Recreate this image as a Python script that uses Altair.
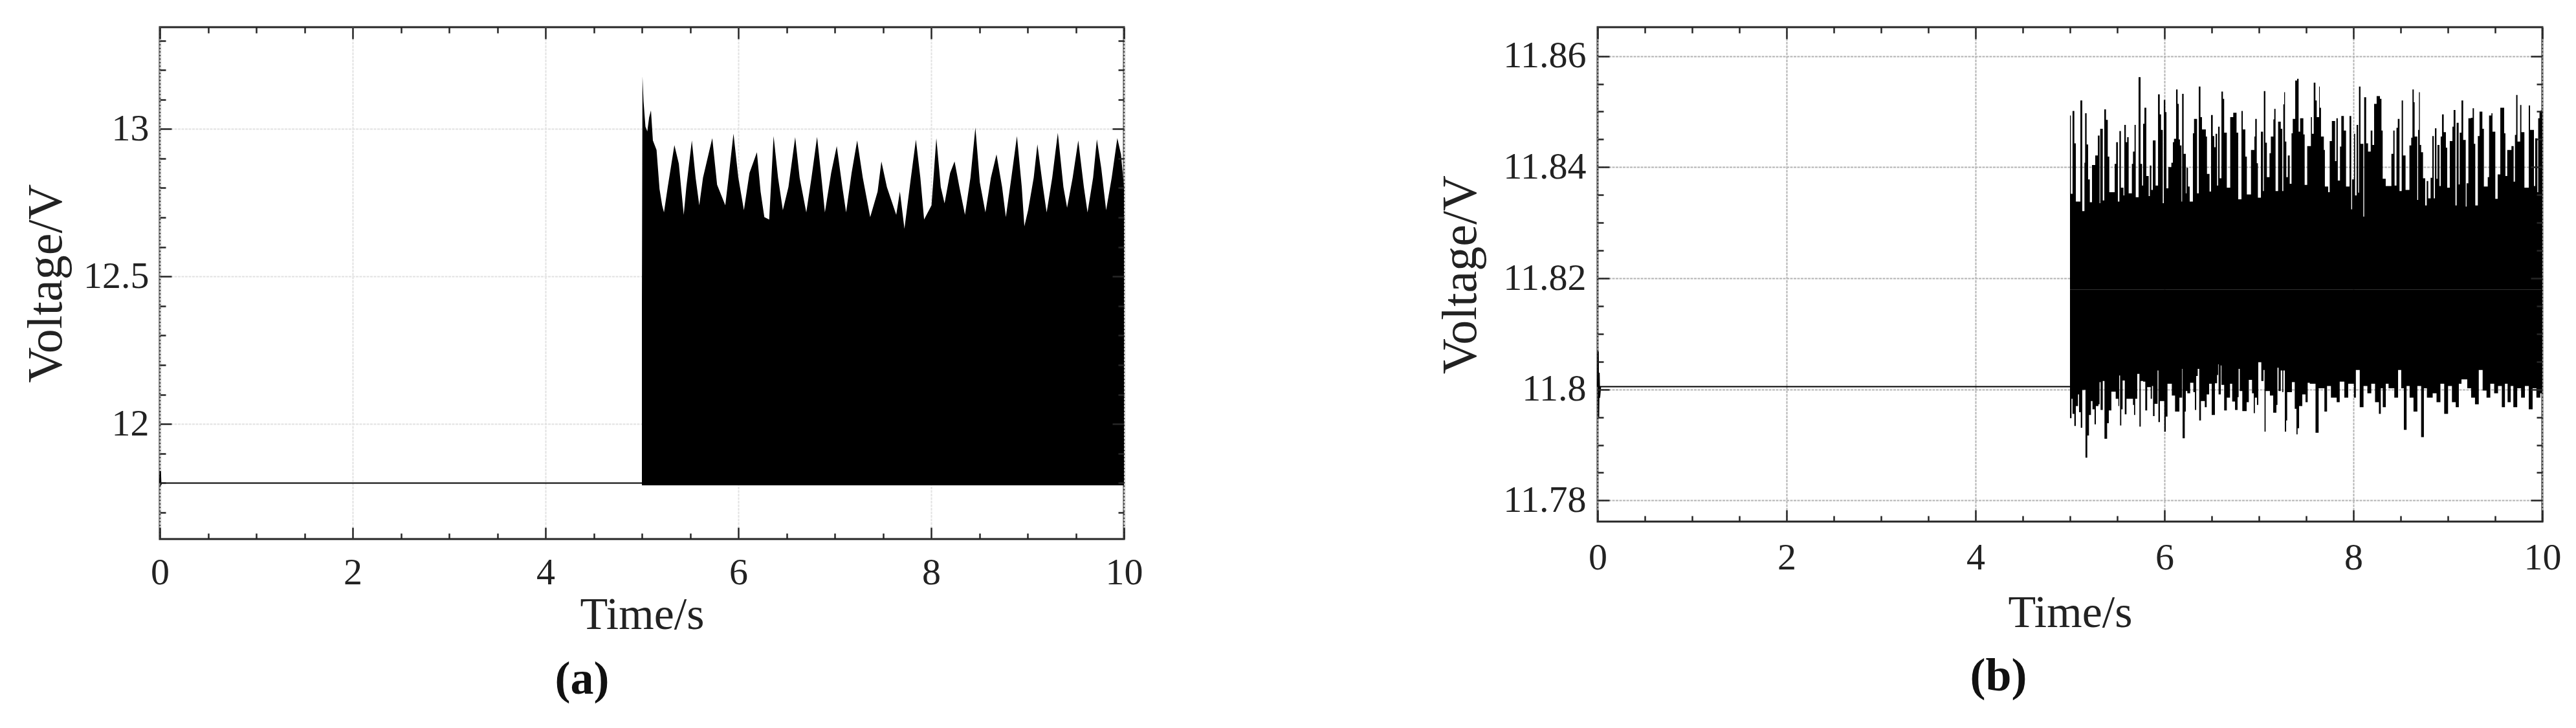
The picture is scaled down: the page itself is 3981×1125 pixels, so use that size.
import altair as alt
import pandas as pd

FONT = "Liberation Serif"
INK = "#262626"

# ---------------- panel (a) ----------------
A_PRE_T = [0.0, 0.005, 0.01, 0.02, 5.0]
A_PRE_V = [11.80, 11.84, 11.795, 11.80, 11.80]
A_T = [5.000, 5.006, 5.017, 5.037, 5.056, 5.075, 5.094, 5.114, 5.152, 5.183,
       5.210, 5.229, 5.268, 5.337, 5.383, 5.434, 5.461, 5.518, 5.557, 5.595,
       5.634, 5.730, 5.780, 5.865, 5.904, 5.950, 6.000, 6.058, 6.116, 6.193,
       6.231, 6.270, 6.320, 6.366, 6.412, 6.462, 6.520, 6.590, 6.636, 6.705,
       6.759, 6.817, 6.867, 6.898, 6.963, 7.021, 7.079, 7.118, 7.175, 7.233,
       7.291, 7.368, 7.445, 7.484, 7.541, 7.638, 7.676, 7.723, 7.784, 7.842,
       7.888, 7.927, 8.004, 8.054, 8.100, 8.139, 8.197, 8.243, 8.293, 8.351,
       8.408, 8.459, 8.505, 8.563, 8.620, 8.678, 8.736, 8.775, 8.832, 8.890,
       8.940, 8.967, 9.006, 9.064, 9.102, 9.160, 9.198, 9.256, 9.314, 9.372,
       9.410, 9.468, 9.526, 9.584, 9.622, 9.680, 9.719, 9.765, 9.815, 9.873,
       9.931, 9.969, 10.000]
A_UP = [12.410, 13.178, 13.094, 13.008, 12.992, 13.039, 13.063, 12.961, 12.929, 12.796,
        12.741, 12.717, 12.803, 12.945, 12.882, 12.709, 12.803, 12.961, 12.835, 12.741,
        12.835, 12.969, 12.811, 12.741, 12.851, 12.984, 12.835, 12.725, 12.851, 12.921,
        12.788, 12.701, 12.693, 12.976, 12.835, 12.725, 12.803, 12.972, 12.835, 12.717,
        12.835, 12.973, 12.819, 12.717, 12.851, 12.942, 12.803, 12.717, 12.851, 12.961,
        12.835, 12.701, 12.788, 12.890, 12.803, 12.709, 12.788, 12.662, 12.819, 12.964,
        12.835, 12.693, 12.741, 12.969, 12.803, 12.748, 12.851, 12.890, 12.803, 12.709,
        12.835, 13.005, 12.819, 12.717, 12.835, 12.914, 12.803, 12.701, 12.835, 12.976,
        12.803, 12.670, 12.725, 12.835, 12.948, 12.803, 12.717, 12.835, 12.987, 12.803,
        12.733, 12.835, 12.961, 12.803, 12.717, 12.835, 12.965, 12.866, 12.725, 12.835,
        12.969, 12.914, 12.803]
A_LOW = 11.792

# ---------------- panel (b) ----------------
B_PRE_T = [0.0, 0.005, 0.01, 0.015, 0.02, 0.03, 5.0]
B_PRE_V = [11.8005, 11.8068, 11.7950, 11.8030, 11.7985, 11.8005, 11.8005]

B_UP_T = [
    5.000, 5.009, 5.027, 5.046, 5.062, 5.110, 5.130, 5.153, 5.160, 5.176,
    5.192, 5.210, 5.233, 5.267, 5.295, 5.313, 5.320, 5.347, 5.363, 5.381,
    5.400, 5.416, 5.473, 5.489, 5.507, 5.523, 5.539, 5.566, 5.575, 5.591,
    5.605, 5.621, 5.655, 5.667, 5.683, 5.696, 5.726, 5.747, 5.763, 5.774,
    5.788, 5.808, 5.833, 5.845, 5.861, 5.877, 5.906, 5.932, 5.950, 5.964,
    5.982, 5.993, 6.009, 6.021, 6.041, 6.073, 6.089, 6.101, 6.123, 6.139,
    6.151, 6.164, 6.180, 6.187, 6.203, 6.226, 6.233, 6.249,
    6.267, 6.301, 6.313, 6.345, 6.363, 6.381, 6.397, 6.438, 6.450, 6.477,
    6.493, 6.511, 6.527, 6.541, 6.557, 6.568, 6.584, 6.603, 6.619, 6.632,
    6.660, 6.696, 6.728, 6.763, 6.781, 6.815, 6.829, 6.856, 6.872, 6.916,
    6.952, 6.961, 6.977, 6.989, 7.021, 7.043, 7.052, 7.068, 7.084, 7.112,
    7.126, 7.153, 7.162, 7.176, 7.203, 7.231, 7.247, 7.258, 7.267, 7.276,
    7.290, 7.306, 7.326, 7.345, 7.358, 7.384, 7.404, 7.420, 7.436, 7.470,
    7.484, 7.511,
    7.520, 7.550, 7.561, 7.580, 7.598, 7.612, 7.637, 7.644, 7.657, 7.687,
    7.698, 7.733, 7.749, 7.772, 7.806, 7.820, 7.835, 7.858, 7.872, 7.899,
    7.922, 7.959, 7.977, 7.986, 8.007, 8.018, 8.034, 8.050, 8.059, 8.075,
    8.105, 8.114, 8.135, 8.155, 8.183, 8.201, 8.219, 8.246, 8.281, 8.297,
    8.310, 8.342, 8.402, 8.422, 8.436, 8.456, 8.470, 8.488, 8.511, 8.525,
    8.552, 8.593, 8.612, 8.625, 8.639, 8.648, 8.676, 8.685, 8.694, 8.703,
    8.717, 8.737, 8.760,
    8.776, 8.792, 8.817, 8.835, 8.851, 8.863, 8.879, 8.890, 8.911, 8.924,
    8.938, 8.956, 8.979, 8.993, 9.020, 9.048, 9.061, 9.080, 9.093, 9.114,
    9.125, 9.144, 9.162, 9.189, 9.198, 9.217, 9.244, 9.262, 9.276, 9.290,
    9.317, 9.335, 9.365, 9.381, 9.422, 9.436, 9.461, 9.472, 9.502, 9.527,
    9.555, 9.596, 9.609, 9.628, 9.673, 9.696, 9.710, 9.723, 9.737, 9.765,
    9.778, 9.810, 9.856, 9.870, 9.911, 9.924, 9.947, 9.956, 9.970, 9.981,
    10.000]
B_UP_V = [
    11.8493, 11.8352, 11.8501, 11.8443, 11.8338, 11.8520, 11.8321, 11.8408, 11.8497, 11.8441,
    11.8378, 11.8337, 11.8404, 11.8421, 11.8457, 11.8335, 11.8469, 11.8340, 11.8504, 11.8485,
    11.8419, 11.8355, 11.8406, 11.8445, 11.8338, 11.8465, 11.8363, 11.8349, 11.8476, 11.8445,
    11.8454, 11.8353, 11.8406, 11.8428, 11.8476, 11.8346, 11.8562, 11.8406, 11.8367, 11.8478,
    11.8507, 11.8384, 11.8348, 11.8403, 11.8359, 11.8448, 11.8367, 11.8531, 11.8495, 11.8467,
    11.8335, 11.8521, 11.8499, 11.8362, 11.8400, 11.8408, 11.8445, 11.8451, 11.8540, 11.8514,
    11.8450, 11.8439, 11.8338, 11.8532, 11.8424, 11.8353, 11.8399, 11.8365,
    11.8338, 11.8461, 11.8487, 11.8353, 11.8545, 11.8490, 11.8468, 11.8455, 11.8388, 11.8356,
    11.8494, 11.8456, 11.8436, 11.8460, 11.8367, 11.8473, 11.8380, 11.8536, 11.8523, 11.8462,
    11.8363, 11.8490, 11.8498, 11.8462, 11.8342, 11.8501, 11.8468, 11.8419, 11.8351, 11.8431,
    11.8455, 11.8487, 11.8407, 11.8345, 11.8464, 11.8357, 11.8537, 11.8444, 11.8382, 11.8425,
    11.8455, 11.8486, 11.8505, 11.8357, 11.8482, 11.8469, 11.8357, 11.8513, 11.8535, 11.8446,
    11.8382, 11.8421, 11.8370, 11.8461, 11.8487, 11.8556, 11.8559, 11.8464, 11.8488, 11.8459,
    11.8368, 11.8438,
    11.8438, 11.8490, 11.8460, 11.8552, 11.8520, 11.8490, 11.8545, 11.8507, 11.8455, 11.8431,
    11.8365, 11.8355, 11.8447, 11.8483, 11.8411, 11.8488, 11.8376, 11.8437, 11.8492, 11.8466,
    11.8365, 11.8492, 11.8324, 11.8378, 11.8460, 11.8349, 11.8476, 11.8354, 11.8545, 11.8442,
    11.8311, 11.8526, 11.8443, 11.8428, 11.8466, 11.8440, 11.8514, 11.8528, 11.8523, 11.8466,
    11.8379, 11.8366, 11.8424, 11.8466, 11.8367, 11.8471, 11.8487, 11.8357, 11.8520, 11.8421,
    11.8359, 11.8439, 11.8453, 11.8540, 11.8517, 11.8455, 11.8341, 11.8467, 11.8535, 11.8440,
    11.8427, 11.8380, 11.8331,
    11.8375, 11.8344, 11.8381, 11.8456, 11.8344, 11.8470, 11.8379, 11.8440, 11.8366, 11.8455,
    11.8495, 11.8463, 11.8435, 11.8363, 11.8447, 11.8473, 11.8503, 11.8331, 11.8480, 11.8369,
    11.8462, 11.8520, 11.8449, 11.8329, 11.8371, 11.8488, 11.8489, 11.8506, 11.8442, 11.8331,
    11.8456, 11.8500, 11.8469, 11.8365, 11.8382, 11.8493, 11.8497, 11.8464, 11.8343, 11.8387,
    11.8507, 11.8461, 11.8384, 11.8431, 11.8438, 11.8374, 11.8458, 11.8530, 11.8446, 11.8512,
    11.8463, 11.8363, 11.8511, 11.8467, 11.8366, 11.8452, 11.8355, 11.8488, 11.8500, 11.8502,
    11.8502]

B_LO_T = [
    5.000, 5.016, 5.027, 5.046, 5.062, 5.085, 5.096, 5.114, 5.130, 5.164,
    5.183, 5.201, 5.222, 5.238, 5.260, 5.274, 5.301, 5.313, 5.324, 5.347,
    5.365, 5.393, 5.411, 5.438, 5.484, 5.512, 5.521, 5.530, 5.543, 5.557,
    5.580, 5.598, 5.667, 5.678, 5.690, 5.712, 5.735, 5.749, 5.774, 5.797,
    5.817, 5.854, 5.868, 5.879, 5.895, 5.927, 5.936, 5.952, 5.998, 6.014,
    6.032, 6.078, 6.112, 6.158, 6.187, 6.192, 6.215, 6.226, 6.242,
    6.272, 6.306, 6.322, 6.336, 6.352, 6.368, 6.386, 6.427, 6.447, 6.473,
    6.500, 6.534, 6.557, 6.568, 6.573, 6.596, 6.603, 6.632, 6.660, 6.694,
    6.717, 6.747, 6.774, 6.785, 6.797, 6.824, 6.870, 6.893, 6.927, 6.945,
    6.957, 6.979, 6.993, 7.025, 7.048, 7.059, 7.071, 7.116, 7.151, 7.185,
    7.196, 7.208, 7.231, 7.247, 7.258, 7.274, 7.288, 7.299, 7.349, 7.379,
    7.397, 7.409, 7.425, 7.459, 7.493, 7.516,
    7.538, 7.599, 7.632, 7.660, 7.693, 7.721, 7.762, 7.823, 7.855, 7.904,
    7.945, 8.006, 8.026, 8.067, 8.107, 8.148, 8.189, 8.229, 8.270, 8.290,
    8.311, 8.343, 8.372, 8.433, 8.473, 8.506, 8.534, 8.563, 8.595, 8.636,
    8.677, 8.717, 8.746, 8.778, 8.839, 8.880, 8.921, 8.961, 9.002, 9.043,
    9.083, 9.116, 9.144, 9.205, 9.246, 9.287, 9.327, 9.368, 9.409, 9.449,
    9.490, 9.531, 9.571, 9.604, 9.632, 9.665, 9.693, 9.734, 9.775, 9.815,
    9.856, 9.897, 9.937, 9.978, 10.000]
B_LO_V = [
    11.7948, 11.7983, 11.7956, 11.7934, 11.7970, 11.7991, 11.7959, 11.7931, 11.7999, 11.7877,
    11.7917, 11.7954, 11.7979, 11.7964, 11.7937, 11.7970, 11.7973, 11.8013, 11.7963, 11.8015,
    11.7911, 11.7939, 11.7962, 11.7996, 11.7983, 11.7970, 11.8025, 11.7935, 11.7964, 11.8016,
    11.7955, 11.7983, 11.7972, 11.7954, 11.7983, 11.8028, 11.7933, 11.8015, 11.8014, 11.7962,
    11.8004, 11.7983, 11.8006, 11.7952, 11.7974, 11.8034, 11.7941, 11.7979, 11.7924, 11.7951,
    11.8010, 11.7989, 11.7960, 11.7985, 11.8037, 11.7912, 11.7960, 11.7997, 11.7993,
    11.8012, 11.7995, 11.7963, 11.8024, 11.8037, 11.7944, 11.7979, 11.7968, 11.7991, 11.8010,
    11.7954, 11.8011, 11.8026, 11.8045, 11.7991, 11.8043, 11.8008, 11.7962, 11.7985, 11.8010,
    11.7978, 11.7963, 11.7986, 11.8037, 11.7997, 11.7961, 11.7977, 11.8017, 11.7993, 11.7957,
    11.7985, 11.7972, 11.8049, 11.8015, 11.8035, 11.7924, 11.7997, 11.7989, 11.7958, 11.7972,
    11.8039, 11.7997, 11.8034, 11.7995, 11.8034, 11.7924, 11.7944, 11.7995, 11.8013, 11.7965,
    11.7919, 11.7930, 11.7970, 11.7991, 11.7977, 11.8012,
    11.8010, 11.7922, 11.8002, 11.8002, 11.7960, 11.8006, 11.7985, 11.7977, 11.8014, 11.7985,
    11.8010, 11.7985, 11.8035, 11.7968, 11.8006, 11.7993, 11.8010, 11.7977, 11.7956, 11.8002,
    11.7968, 11.8010, 11.8002, 11.7985, 11.8035, 11.8002, 11.7927, 11.8006, 11.7985, 11.7960,
    11.8006, 11.7914, 11.8002, 11.7985, 11.7993, 11.7977, 11.8010, 11.7956, 11.8006, 11.7977,
    11.7968, 11.8010, 11.8018, 11.8002, 11.7985, 11.7973, 11.8035, 11.7998, 11.7985, 11.8010,
    11.7993, 11.8006, 11.7968, 11.8010, 11.7977, 11.8006, 11.7968, 11.8002, 11.7985, 11.8006,
    11.7964, 11.8002, 11.7985, 11.7993, 11.7993]
B_MID = 11.818

# ---------------- axes ----------------
X_DOM = [0, 10]
A_Y_DOM = [11.61, 13.345]
B_Y_DOM = [11.7762, 11.8652]
X_MAJOR = [0, 2, 4, 6, 8, 10]
X_MINOR = [0.5, 1, 1.5, 2.5, 3, 3.5, 4.5, 5, 5.5, 6.5, 7, 7.5, 8.5, 9, 9.5]
A_Y_MAJOR = [12, 12.5, 13]
A_Y_MINOR = [11.7, 11.8, 11.9, 12.1, 12.2, 12.3, 12.4, 12.6, 12.7, 12.8, 12.9,
             13.1, 13.2, 13.3]
B_Y_MAJOR = [11.78, 11.8, 11.82, 11.84, 11.86]
B_Y_MINOR = [11.785, 11.79, 11.795, 11.805, 11.81, 11.815, 11.825, 11.83,
             11.835, 11.845, 11.85, 11.855]

A_W, A_H = 1490, 791
B_W, B_H = 1460, 764


def scale(dom):
    return alt.Scale(domain=dom, nice=False, zero=False)


def x_main(lpad, tpad, gcolor):
    return alt.X("t:Q", title="Time/s", scale=scale(X_DOM),
                 axis=alt.Axis(values=X_MAJOR, format="~r", ticks=False, domain=False,
                               grid=True, gridColor=gcolor, gridDash=[4, 1.5], gridWidth=2,
                               labelFlush=False, labelPadding=lpad, titlePadding=tpad,
                               titleFontSize=70))


def y_main(dom, vals, extent, lpad, tpad, gcolor):
    return alt.Y("v:Q", title="Voltage/V", scale=scale(dom),
                 axis=alt.Axis(values=vals, format="~r", ticks=False, domain=False,
                               grid=True, gridColor=gcolor, gridDash=[4, 1.5], gridWidth=2,
                               labelFlush=False, labelPadding=lpad, titlePadding=tpad,
                               minExtent=extent, maxExtent=extent, titleFontSize=76))


def tick_layer(W, H, ydom, xvals, yvals, size, side):
    corner = pd.DataFrame({"x": [X_DOM[0]], "y": [ydom[0]]})
    xo, yo = ("top", "right") if side == "bottom_left" else ("bottom", "left")
    common = dict(labels=False, domain=False, grid=False, ticks=True, tickSize=size,
                  tickWidth=2.5, tickColor=INK, zindex=3)
    return alt.Chart(corner).mark_point(opacity=0).encode(
        x=alt.X("x:Q", title=None, scale=scale(X_DOM),
                axis=alt.Axis(orient=xo, offset=-H, values=xvals, **common)),
        y=alt.Y("y:Q", title=None, scale=scale(ydom),
                axis=alt.Axis(orient=yo, offset=-W, values=yvals, **common)),
    )


def tick_layers(W, H, ydom, ymaj, ymin):
    return [
        tick_layer(W, H, ydom, X_MAJOR, ymaj, 18, "bottom_left"),
        tick_layer(W, H, ydom, X_MINOR, ymin, 9, "bottom_left"),
        tick_layer(W, H, ydom, X_MAJOR, ymaj, 18, "top_right"),
        tick_layer(W, H, ydom, X_MINOR, ymin, 9, "top_right"),
    ]


def caption(text, offset):
    return alt.TitleParams(text=text, orient="bottom", anchor="middle", frame="bounds",
                           font=FONT, fontSize=72, fontWeight="bold", color="#111111",
                           offset=offset)


# ---------- panel (a) ----------
xA = x_main(23, 2, "#e2e2e2")
yA = y_main(A_Y_DOM, A_Y_MAJOR, 120, 17, 17, "#e2e2e2")
dfA_pre = pd.DataFrame({"t": A_PRE_T, "v": A_PRE_V})
dfA = pd.DataFrame({"t": A_T, "v": A_UP})
dfA["lo"] = A_LOW
lineA = alt.Chart(dfA_pre).mark_line(color="black", strokeWidth=2).encode(x=xA, y=yA)
areaA = alt.Chart(dfA).mark_area(color="black", opacity=1).encode(x=xA, y=yA, y2="lo:Q")
panelA = alt.layer(
    alt.layer(lineA, areaA), *tick_layers(A_W, A_H, A_Y_DOM, A_Y_MAJOR, A_Y_MINOR)
).resolve_scale(x="independent", y="independent").properties(
    width=A_W, height=A_H, title=caption("(a)", 30))

# ---------- panel (b) ----------
xB = x_main(27, 22, "#b4b4b4")
yB = y_main(B_Y_DOM, B_Y_MAJOR, 152, 18, 21, "#b4b4b4")
dfB_pre = pd.DataFrame({"t": B_PRE_T, "v": B_PRE_V})
dfB_up = pd.DataFrame({"t": B_UP_T, "v": B_UP_V})
dfB_up["mid"] = B_MID
dfB_lo = pd.DataFrame({"t": B_LO_T, "v": B_LO_V})
dfB_lo["mid"] = B_MID
lineB = alt.Chart(dfB_pre).mark_line(color="black", strokeWidth=2).encode(x=xB, y=yB)
upB = alt.Chart(dfB_up).mark_area(color="black", opacity=1, interpolate="step-after").encode(
    x=xB, y=yB, y2="mid:Q")
loB = alt.Chart(dfB_lo).mark_area(color="black", opacity=1, interpolate="step-after").encode(
    x=xB, y=yB, y2="mid:Q")
panelB = alt.layer(
    alt.layer(lineB, upB, loB), *tick_layers(B_W, B_H, B_Y_DOM, B_Y_MAJOR, B_Y_MINOR)
).resolve_scale(x="independent", y="independent").properties(
    width=B_W, height=B_H, title=caption("(b)", 28))

chart = alt.hconcat(panelA, panelB, spacing=449).properties(
    padding={"left": 23, "top": 31, "right": 0, "bottom": 5}
).configure_view(
    stroke=INK, strokeWidth=3
).configure_axis(
    labelFont=FONT, titleFont=FONT, labelFontSize=58, labelColor="#222222",
    titleColor="#222222", titleFontWeight="normal"
)

chart.save("out.html", embed_options={"renderer": "svg", "actions": False})
